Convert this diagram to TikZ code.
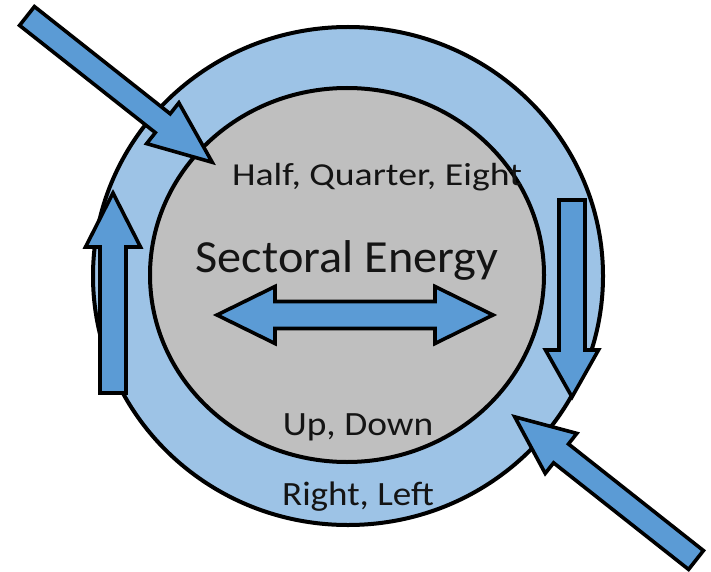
\documentclass[tikz,border=0pt]{standalone}
\usepackage{fontspec}
\setmainfont{Carlito}
\usepackage{xcolor}
\usepackage{graphicx}
\definecolor{ringblue}{HTML}{9DC3E6}
\definecolor{arrowblue}{HTML}{5B9BD5}
\definecolor{coregray}{HTML}{BFBFBF}
\definecolor{labelink}{HTML}{141414}
% block arrow: tail, angle, length, shaft width, head width, head length
\newcommand{\blockarrow}[6]{%
  \draw[block, shift={(#1)}, rotate=#2]
    (0,-#4/2) -- ({#3-#6},-#4/2) -- ({#3-#6},-#5/2) -- (#3,0)
    -- ({#3-#6},#5/2) -- ({#3-#6},#4/2) -- (0,#4/2) -- cycle;}
\newcommand{\widetext}[3]{\fontsize{#1}{#1}\selectfont\scalebox{#2}[1]{#3}}

\begin{document}
\begin{tikzpicture}[
  x=1pt,
  y=-1pt,
  ring/.style={draw=black, line width=4pt, fill=ringblue},
  core/.style={draw=black, line width=4pt, fill=coregray},
  block/.style={draw=black, line width=3.6pt, fill=arrowblue, line join=miter},
  label/.style={labelink, inner sep=0pt, anchor=base}
]
  % ---- page ------------------------------------------------------------
  \useasboundingbox (0,0) rectangle (711,572);

  % ---- the two rings ---------------------------------------------------
  \path[ring] (348,276) ellipse [x radius=255, y radius=249];
  \path[core] (347,275) ellipse [x radius=197, y radius=187];

  % ---- arrows into and round the rings ---------------------------------
  \blockarrow{27,16}{-38.3}{236}{24}{52}{63}
  \blockarrow{696,560}{141.7}{231}{24}{51}{59}
  \blockarrow{572,200}{-90}{197}{26}{53}{47}
  \blockarrow{113,393}{90}{200}{26}{55}{54}

  % ---- the two-headed arrow in the core --------------------------------
  \draw[block]
    (217,315) -- (275,286.5) -- (275,301.5) -- (435,301.5) -- (435,286.5)
    -- (493,315) -- (435,343.5) -- (435,328.5) -- (275,328.5)
    -- (275,343.5) -- cycle;

  % ---- labels ----------------------------------------------------------
  \node[label] (fractions) at (377,185)
    {\widetext{32}{1.18}{Half, Quarter, Eight}};
  \node[label] (title) at (347,272)
    {\widetext{46}{1.05}{Sectoral Energy}};
  \node[label] (updown) at (358,435)
    {\widetext{34}{1.10}{Up, Down}};
  \node[label] (rightleft) at (358,505)
    {\widetext{34}{1.09}{Right, Left}};

\end{tikzpicture}
\end{document}
